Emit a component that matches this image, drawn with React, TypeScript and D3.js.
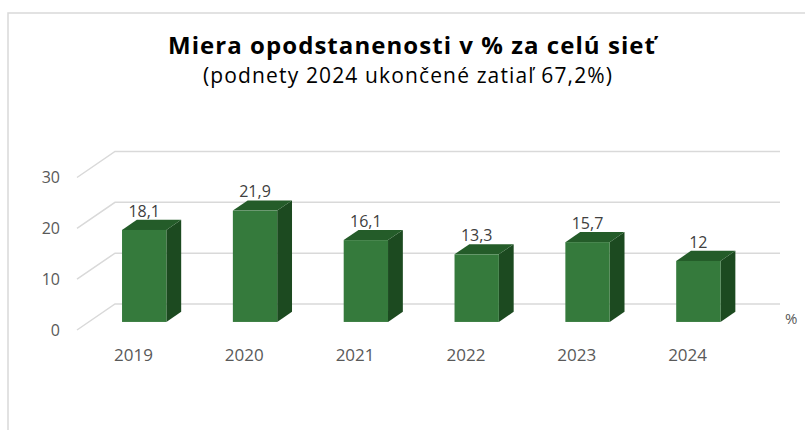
import React from 'react';
import * as d3 from 'd3';

const years = ['2019', '2020', '2021', '2022', '2023', '2024'];
const values = [18.1, 21.9, 16.1, 13.3, 15.7, 12];
const valueLabels = ['18,1', '21,9', '16,1', '13,3', '15,7', '12'];
const yTicks = [0, 10, 20, 30];

const W = 805, H = 430;
// floor of the 3D box, front edge
const floorLeft = 77, floorRight = 742;
// offset of the back wall from the front plane
const depthX = 38, depthY = -26;
// bars stand between these depth fractions
const barT0 = 0.31, barT1 = 0.70;

const fontFam = "'Open Sans', 'DejaVu Sans', sans-serif";

export default function App() {
    const x = d3.scaleBand<string>()
        .domain(years)
        .range([floorLeft, floorRight])
        .paddingInner(0.6)
        .paddingOuter(0.3);
    const y = d3.scaleLinear().domain([0, 30]).range([330, 177.5]);

    const shift = (t: number) => [depthX * t, depthY * t];
    const [bx0, by0] = shift(barT0);
    const [bx1, by1] = shift(barT1);
    const sdx = bx1 - bx0, sdy = by1 - by0;

    const grid = '#d9d9d9';
    const front = '#357a3c', top = '#245c29', side = '#1c4a20';

    return (
        <svg width={W} height={H} style={{ position: 'absolute', left: 0, top: 0, background: '#fff' }}>
            <rect x={8} y={13} width={W} height={H} fill="#fff" stroke="#d9d9d9" strokeWidth={1.5} />

            <text x={411.5} y={54} textAnchor="middle" fontFamily={fontFam} fontWeight="bold" fontSize={24}
                textLength={487} lengthAdjust="spacing" fill="#000">
                Miera opodstanenosti v % za celú sieť
            </text>
            <text x={407.5} y={83} textAnchor="middle" fontFamily={fontFam} fontSize={21}
                textLength={409} lengthAdjust="spacing" fill="#000">
                (podnety 2024 ukončené zatiaľ 67,2%)
            </text>

            {/* gridlines: side diagonal + back wall */}
            {yTicks.map(t => (
                <path key={'g' + t}
                    d={d3.line()([[floorLeft, y(t)], [floorLeft + depthX, y(t) + depthY], [floorRight + depthX, y(t) + depthY]]) || ''}
                    fill="none" stroke={grid} strokeWidth={1.5} />
            ))}

            {yTicks.map(t => (
                <text key={'yt' + t} x={60} y={y(t)} dy="0.35em" textAnchor="end"
                    fontFamily={fontFam} fontSize={16} fill="#595959">{t}</text>
            ))}

            {years.map((yr, i) => {
                const v = values[i];
                const fx = (x(yr) as number) + bx0;
                const bw = x.bandwidth();
                const fy0 = y(0) + by0;
                const fy1 = y(v) + by0;
                return (
                    <g key={yr}>
                        <path d={`M${fx + bw},${fy0}L${fx + bw + sdx},${fy0 + sdy}L${fx + bw + sdx},${fy1 + sdy}L${fx + bw},${fy1}Z`} fill={side} />
                        <path d={`M${fx},${fy1}L${fx + sdx},${fy1 + sdy}L${fx + bw + sdx},${fy1 + sdy}L${fx + bw},${fy1}Z`} fill={top} />
                        <rect x={fx} y={fy1} width={bw} height={fy0 - fy1} fill={front} />
                        <text x={fx + bw / 2} y={fy1 + sdy - 3} textAnchor="middle"
                            fontFamily={fontFam} fontSize={16} fill="#404040">{valueLabels[i]}</text>
                        <text x={(x(yr) as number) + bw / 2 + 1} y={361} textAnchor="middle"
                            fontFamily={fontFam} fontSize={17} fill="#595959">{yr}</text>
                    </g>
                );
            })}

            <text x={785} y={324} fontFamily={fontFam} fontSize={15} fill="#595959">%</text>
        </svg>
    );
}
